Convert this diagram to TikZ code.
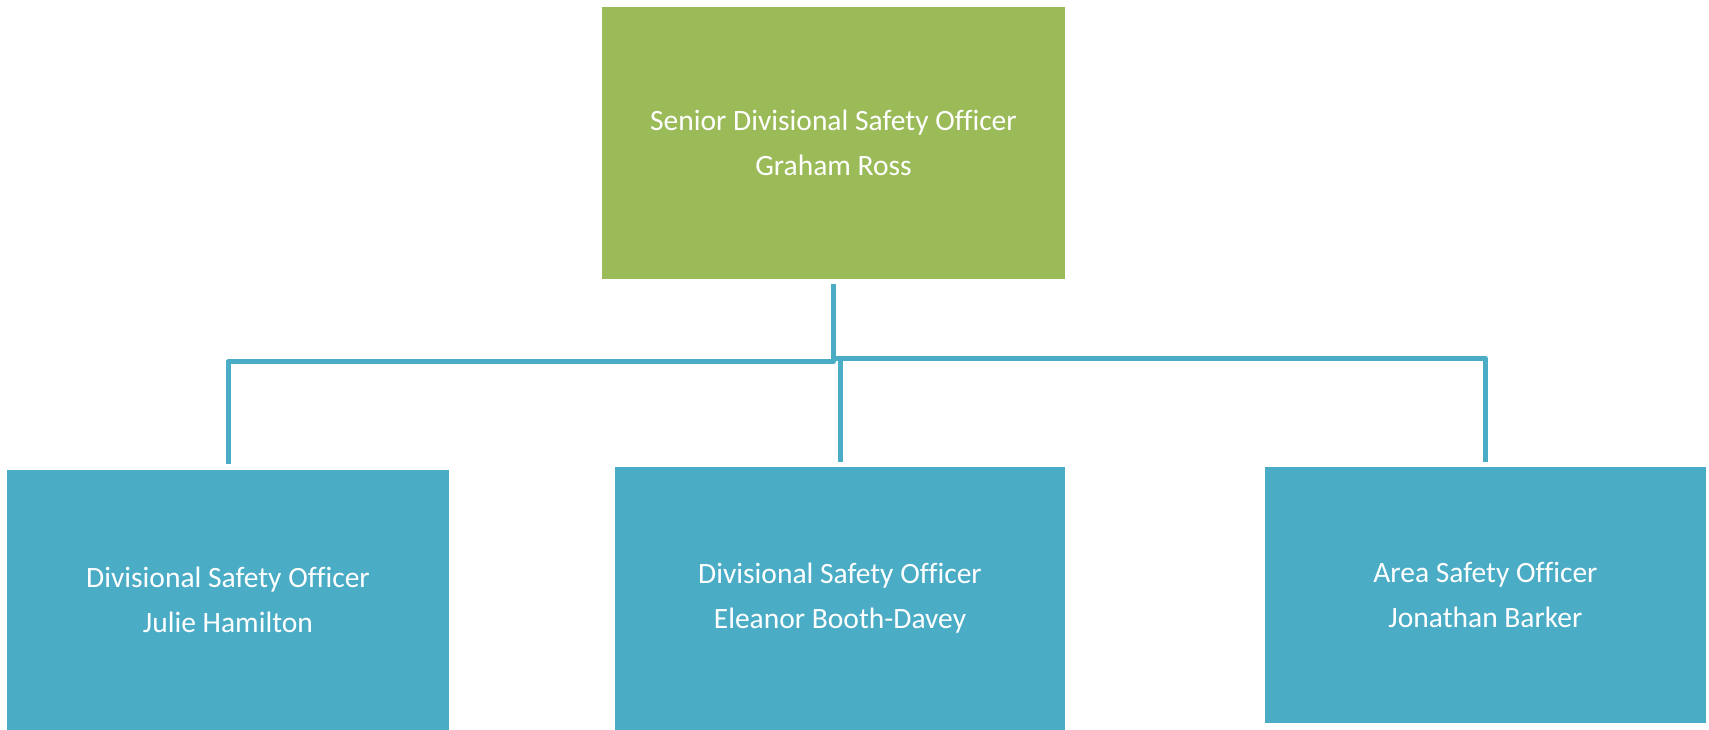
\documentclass[tikz,border=0pt]{standalone}
\usepackage{fontspec}
\setmainfont[Ligatures={NoCommon}]{Carlito}
\definecolor{topgreen}{HTML}{9BBB59}
\definecolor{aqua}{HTML}{4BACC6}
\begin{document}
\begin{tikzpicture}[x=1pt,y=1pt,
  box/.style={draw=none,inner sep=0pt,align=center,text=white,
    font=\fontsize{29.5}{45}\selectfont},
  conn/.style={draw=aqua,line width=5pt,line join=round}]
\useasboundingbox (0,0) rectangle (1709,-730);
\clip (0,0) rectangle (1709,-730);
\node[box,fill=topgreen,minimum width=463pt,minimum height=272pt] (top) at (833.5,-143)
  {Senior Divisional Safety Officer\\Graham Ross};
\node[box,fill=aqua,minimum width=442pt,minimum height=260pt] (b1) at (228,-600)
  {Divisional Safety Officer\\Julie Hamilton};
\node[box,fill=aqua,minimum width=450pt,minimum height=263pt] (b2) at (840,-598.5)
  {Divisional Safety Officer\\Eleanor Booth-Davey};
\node[box,fill=aqua,minimum width=441pt,minimum height=256pt] (b3) at (1485.4,-595)
  {Area Safety Officer\\Jonathan Barker};
\draw[conn] ([yshift=-5pt]top.south) |- ([yshift=108pt]b1.north) -- ([yshift=6pt]b1.north);
\draw[conn] ([yshift=-79pt]top.south) -| ([yshift=5pt]b2.north);
\draw[conn] ([yshift=-79pt]top.south) -| ([yshift=5pt]b3.north);
\end{tikzpicture}
\end{document}
